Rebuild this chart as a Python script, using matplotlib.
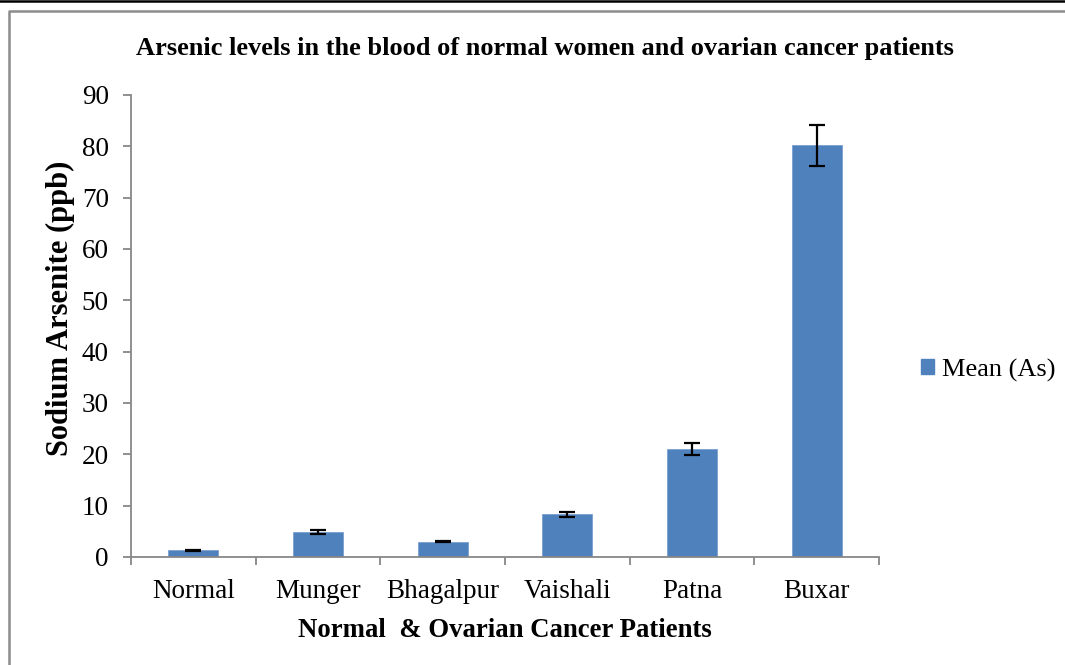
import matplotlib
matplotlib.use("Agg")
import matplotlib.pyplot as plt
from matplotlib.lines import Line2D
from matplotlib.patches import Patch

categories = ["Normal", "Munger", "Bhagalpur", "Vaishali", "Patna", "Buxar"]
mean_as = [1.3, 4.9, 3.0, 8.3, 21.0, 80.2]
err_as = [0.1, 0.35, 0.15, 0.5, 1.15, 4.0]
yticks = [0, 10, 20, 30, 40, 50, 60, 70, 80, 90]

W, H = 1065, 665
fig = plt.figure(figsize=(W / 100, H / 100), dpi=100)
plt.rcParams['font.family'] = ['Liberation Serif', 'DejaVu Serif']

gray = "#878787"
bar_color = "#4F81BD"

ax = fig.add_axes([131 / W, (H - 557) / H, (879 - 131) / W, (557 - 95) / H])
x = list(range(len(categories)))
ax.bar(x, mean_as, width=0.4, color=bar_color, edgecolor="#7A9FD0", linewidth=0.6, zorder=2)
ax.errorbar(x, mean_as, yerr=err_as, fmt="none", ecolor="black", elinewidth=1.6,
            capsize=6, capthick=1.6, zorder=3)

ax.set_xlim(-0.5, len(categories) - 0.5)
ax.set_ylim(0, 90)
ax.set_yticks(yticks)
ax.set_xticks(x)
ax.set_xticklabels(categories)
ax.set_xticks([i - 0.5 for i in range(len(categories) + 1)], minor=True)
ax.tick_params(axis="x", which="major", length=0, pad=16, labelsize=19.5)
ax.tick_params(axis="x", which="minor", length=6, width=1.3, color=gray, direction="out")
ax.tick_params(axis="y", length=6, width=1.3, color=gray, direction="out", pad=10, labelsize=19.5)

for s in ["top", "right"]:
    ax.spines[s].set_visible(False)
for s in ["left", "bottom"]:
    ax.spines[s].set_color(gray)
    ax.spines[s].set_linewidth(1.3)

ax.set_xlabel("Normal  & Ovarian Cancer Patients", fontsize=19.3, fontweight="bold", labelpad=10)
ax.set_ylabel("Sodium Arsenite (ppb)", fontsize=22, fontweight="bold", labelpad=5)
ax.yaxis.label.set_y(0.539)

fig.text(545 / W, 1 - 48 / H, "Arsenic levels in the blood of normal women and ovarian cancer patients",
         ha="center", va="center", fontsize=19, fontweight="bold")

leg = fig.legend(handles=[Patch(facecolor=bar_color, edgecolor=bar_color, label="Mean (As)")],
                 loc="center left", bbox_to_anchor=(921 / W, 1 - 370 / H), frameon=False,
                 borderpad=0, borderaxespad=0, fontsize=19, handlelength=0.5, handleheight=0.5,
                 handletextpad=0.3)

# frames
fig.add_artist(Line2D([0, 1], [1 - 1 / H, 1 - 1 / H], color="black", linewidth=1.8,
                      transform=fig.transFigure))
fig.add_artist(Line2D([8.5 / W, 8.5 / W, 1], [0, 1 - 11 / H, 1 - 11 / H], color="#8C8C8C",
                      linewidth=1.8, transform=fig.transFigure))

fig.savefig("out.png", dpi=100)
